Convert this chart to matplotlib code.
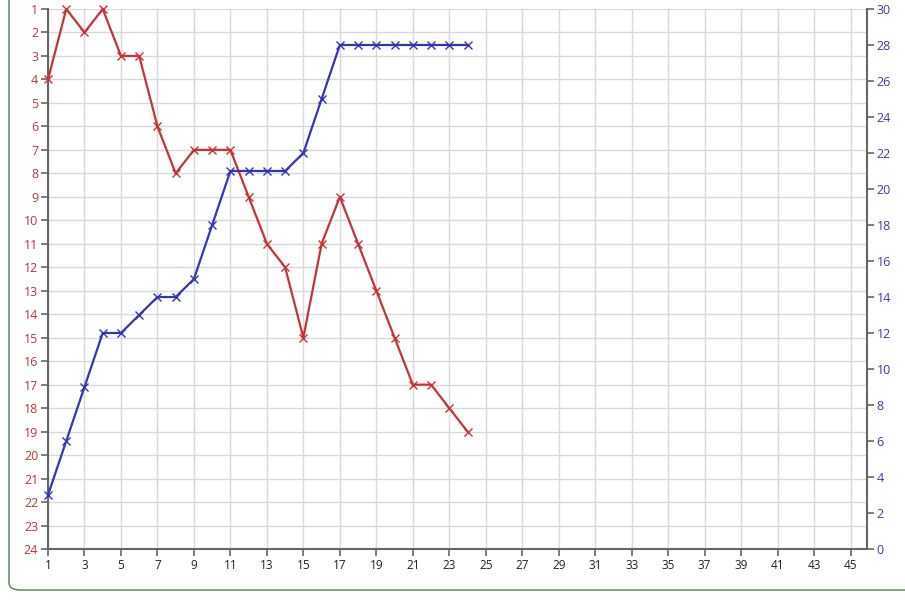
import matplotlib
matplotlib.use("Agg")
import matplotlib.pyplot as plt
from matplotlib.patches import FancyBboxPatch

plt.rcParams['font.family'] = ['Open Sans', 'DejaVu Sans']

# data
x_vals = list(range(1, 25))
red_rank = [4, 1, 2, 1, 3, 3, 6, 8, 7, 7, 7, 9, 11, 12, 15, 11, 9, 11, 13, 15, 17, 17, 18, 19]
blue_vals = [3, 6, 9, 12, 12, 13, 14, 14, 15, 18, 21, 21, 21, 21, 22, 25, 28, 28, 28, 28, 28, 28, 28, 28]
x_ticks = list(range(1, 46, 2))
left_ticks = list(range(1, 25))
right_ticks = list(range(0, 31, 2))

red = '#c83236'
blue = '#3434b8'
axis_col = '#666666'
grid_col = '#d9d9d9'

W, H = 905, 600
fig = plt.figure(figsize=(W / 100, H / 100), dpi=100)

# rounded green border around the chart
border = FancyBboxPatch((9 / W, 10 / H), 1.2, 1.2, boxstyle="round,pad=0,rounding_size=0.012",
                        transform=fig.transFigure, facecolor='none', edgecolor='#4f7f4f',
                        linewidth=1.0, clip_on=False)
fig.patches.append(border)

ax = fig.add_axes([48 / W, (H - 549) / H, (867 - 48) / W, (549 - 9) / H])
ax.set_xlim(1, 45.9)
ax.set_ylim(24, 1)

ax.set_xticks(x_ticks)
ax.set_yticks(left_ticks)
ax.grid(True, color=grid_col, linewidth=1)
ax.set_axisbelow(True)

for s in ['top', 'right']:
    ax.spines[s].set_visible(False)
for s in ['left', 'bottom']:
    ax.spines[s].set_color(axis_col)
    ax.spines[s].set_linewidth(1.5)

ax.tick_params(axis='x', colors=axis_col, labelcolor='#222222', labelsize=8.5, length=5, width=1.2, pad=2)
ax.tick_params(axis='y', colors=axis_col, labelcolor='#b03a3a', labelsize=9, length=5, width=1.2, pad=2)

ax.plot(x_vals, red_rank, color=red, linewidth=1.6, marker='x', markersize=6,
        markeredgewidth=1.0, clip_on=False, zorder=3)

ax2 = ax.twinx()
ax2.set_ylim(0, 30)
ax2.set_yticks(right_ticks)
for s in ['top', 'left', 'bottom']:
    ax2.spines[s].set_visible(False)
ax2.spines['right'].set_color(axis_col)
ax2.spines['right'].set_linewidth(1.5)
ax2.tick_params(axis='y', colors=axis_col, labelcolor='#3c3ca0', labelsize=9, length=5, width=1.2, pad=2)

ax2.plot(x_vals, blue_vals, color=blue, linewidth=1.6, marker='x', markersize=6,
         markeredgewidth=1.0, clip_on=False, zorder=3)

fig.savefig("out.png", dpi=100)
